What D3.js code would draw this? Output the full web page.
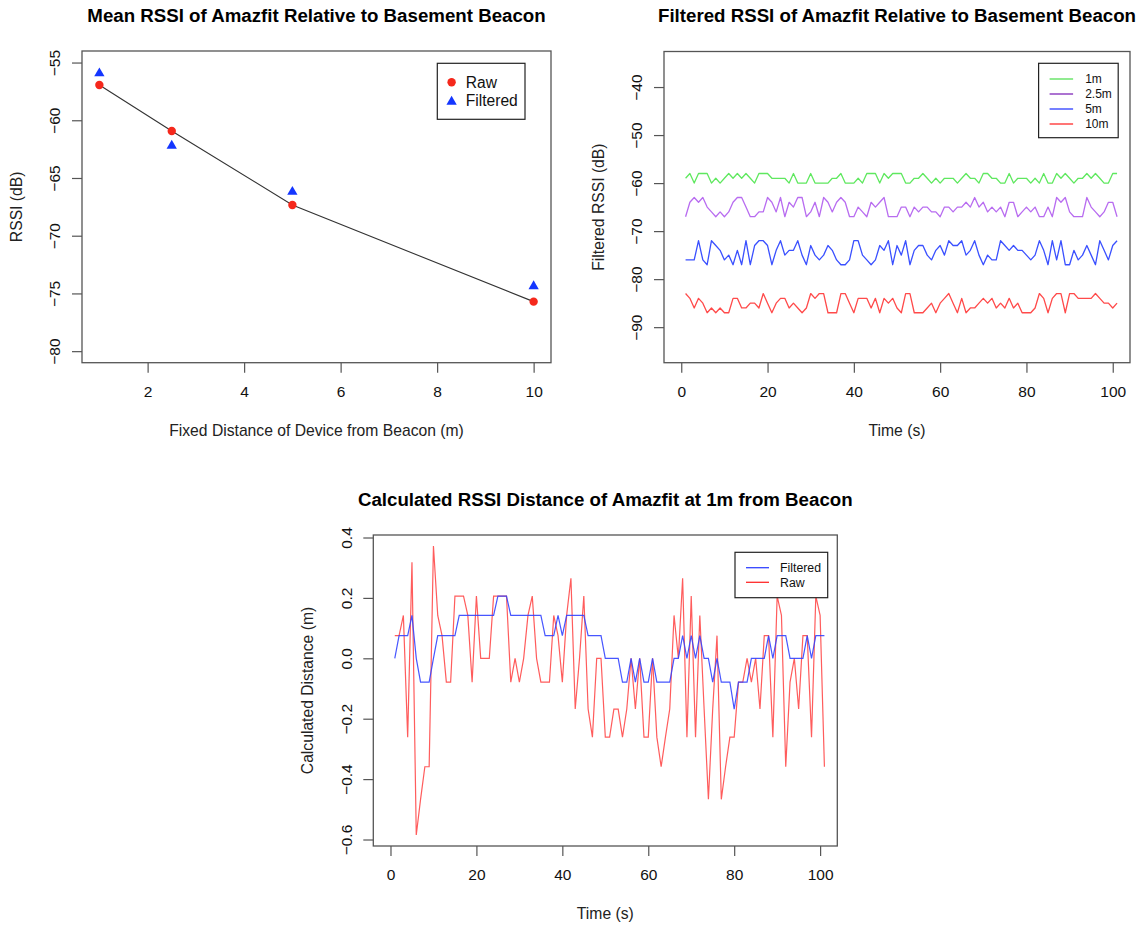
<!DOCTYPE html>
<html><head><meta charset="utf-8">
<script src="https://cdn.jsdelivr.net/npm/d3@7"></script>
<style>
body{margin:0;background:#fff;}
svg{display:block;font-family:"Liberation Sans",Arial,Helvetica,sans-serif;}
</style></head><body>
<svg id="chart" width="1142" height="926"></svg>
<script>
// ---------- Panel A: mean RSSI vs distance ----------
const distances = [1, 2.5, 5, 10];
const meanRaw = [-56.94, -60.93, -67.34, -75.71];
const meanFiltered = [-55.87, -62.14, -66.13, -74.3];
const aXTicks = [2, 4, 6, 8, 10];
const aYTicks = [-80, -75, -70, -65, -60, -55];
const aLegend = ["Raw", "Filtered"];

// ---------- Panel B: filtered RSSI over time ----------
const bSeriesNames = ["1m", "2.5m", "5m", "10m"];
const rssi1m = [-59,-58,-60,-58,-58,-58,-60,-59,-60,-59,-58,-59,-58,-59,-58,-59,-60,-58,-58,-58,-59,-59,-59,-59,-60,-58,-60,-60,
  -60,-58,-60,-60,-60,-60,-59,-59,-58,-60,-60,-60,-59,-60,-58,-58,-58,-60,-58,-59,-58,-58,-58,-60,-60,-59,-59,-58,-59,-60,-59,
  -60,-59,-59,-59,-60,-59,-58,-59,-59,-60,-58,-58,-59,-59,-60,-60,-58,-60,-59,-59,-59,-60,-59,-60,-58,-60,-60,-58,-59,-58,-59,-60,
  -59,-59,-58,-59,-58,-59,-60,-60,-58,-58];
const rssi2_5m = [-67,-64,-63,-64,-63,-65,-66,-67,-66,-67,-66,-64,-63,-63,-65,-67,-67,-66,-66,-63,-64,-66,-63,-67,-64,-65,-63,-63,
  -67,-66,-64,-67,-63,-64,-66,-64,-63,-64,-67,-67,-65,-66,-67,-64,-65,-64,-63,-67,-67,-67,-65,-65,-67,-65,-66,-65,-65,-66,-66,
  -67,-65,-65,-66,-65,-65,-64,-65,-63,-65,-64,-66,-65,-66,-65,-67,-64,-64,-67,-66,-65,-66,-65,-67,-67,-65,-67,-63,-64,-63,-66,-67,
  -67,-67,-63,-65,-66,-67,-66,-64,-64,-67];
const rssi5m = [-76,-76,-76,-72,-76,-77,-72,-73,-74,-76,-75,-77,-74,-77,-72,-77,-73,-72,-72,-73,-77,-74,-72,-75,-74,-74,-72,-75,
  -77,-73,-75,-76,-75,-73,-74,-76,-77,-77,-76,-72,-72,-75,-76,-77,-76,-73,-74,-72,-77,-73,-75,-72,-77,-74,-73,-73,-75,-76,-74,
  -73,-75,-72,-73,-73,-72,-75,-74,-72,-75,-77,-75,-76,-76,-72,-73,-74,-73,-74,-74,-75,-76,-75,-72,-74,-77,-72,-76,-72,-77,-77,-74,
  -76,-75,-73,-75,-77,-72,-74,-76,-73,-72];
const rssi10m = [-83,-84,-86,-84,-85,-87,-86,-87,-86,-87,-87,-84,-84,-86,-86,-85,-85,-86,-83,-85,-87,-85,-84,-84,-86,-85,-86,-87,
  -86,-83,-84,-83,-83,-87,-87,-87,-83,-83,-85,-87,-84,-84,-84,-86,-84,-87,-84,-85,-84,-86,-87,-83,-83,-87,-87,-87,-86,-85,-87,
  -85,-84,-83,-85,-87,-84,-87,-86,-86,-85,-84,-85,-84,-86,-85,-86,-84,-86,-85,-87,-87,-87,-86,-83,-84,-87,-84,-83,-83,-87,-83,-83,
  -84,-84,-84,-84,-83,-84,-85,-85,-86,-85];
const bXTicks = [0, 20, 40, 60, 80, 100];
const bYTicks = [-90, -80, -70, -60, -50, -40];

// ---------- Panel C: calculated distance ----------
const distFiltered = [0,0.075,0.075,0.075,0.142,0,-0.079,-0.079,-0.079,0,
  0.075,0.075,0.075,0.075,0.075,0.142,0.142,0.142,0.142,0.142,
  0.142,0.142,0.142,0.142,0.206,0.206,0.206,0.142,0.142,0.142,
  0.142,0.142,0.142,0.142,0.142,0.075,0.075,0.075,0.142,0.075,
  0.142,0.142,0.142,0.142,0.142,0.075,0.075,0.075,0.075,0,
  0,0,0,-0.079,-0.079,0,-0.079,0,-0.079,-0.079,
  0,-0.079,-0.079,-0.079,-0.079,0,0,0.075,0,0.075,
  0,0.075,0,0,-0.079,0,-0.079,-0.079,-0.079,-0.168,
  -0.079,-0.079,-0.079,0,0,0,0,0.075,0,0.075,
  0.075,0.075,0,0,0,0,0.075,0,0.075,0.075,
  0.075];
const distRaw = [0.075,0.075,0.142,-0.261,0.318,-0.585,-0.467,-0.359,-0.359,0.372,
  0.142,0.075,-0.079,-0.079,0.206,0.206,0.206,0.142,-0.079,0.206,
  0,0,0,0.206,0.206,0.206,0.206,-0.079,0,-0.079,
  0,0.142,0.206,0,-0.079,-0.079,-0.079,0.142,0.075,-0.079,
  0.142,0.265,-0.168,0,0.206,-0.168,-0.261,0,0,-0.261,
  -0.261,-0.168,-0.168,-0.261,-0.168,0,-0.168,0,-0.261,-0.261,
  0,-0.261,-0.359,-0.261,-0.168,0.142,0,0.265,-0.261,0.206,
  -0.261,0.142,-0.168,-0.467,-0.168,0.075,-0.467,-0.359,-0.261,-0.261,
  -0.079,-0.079,0,-0.079,0,-0.168,0.075,0.075,-0.261,0.206,
  0.142,-0.359,-0.079,0,-0.168,0.075,0.075,-0.261,0.206,0.142,
  -0.359];
const cXTicks = [0, 20, 40, 60, 80, 100];
const cYTicks = [-0.6, -0.4, -0.2, 0, 0.2, 0.4];
const cLegend = ["Filtered", "Raw"];

// ---------- drawing ----------
const svg = d3.select("#chart");
const TICK_FS = "15.5px", LAB_FS = "15.7px", TITLE_FS = "18.7px";

function panel(cfg) {
  const x = d3.scaleLinear().domain(cfg.xDomain).range([cfg.left, cfg.right]);
  const y = d3.scaleLinear().domain(cfg.yDomain).range([cfg.bottom, cfg.top]);
  const g = svg.append("g");
  // x axis
  const xa = g.append("g").attr("transform", `translate(0,${cfg.bottom})`)
    .call(d3.axisBottom(x).tickValues(cfg.xTicks).tickSize(10).tickFormat(cfg.xFmt || d3.format("d")));
  xa.select(".domain").remove();
  xa.selectAll("line").attr("stroke", "#555").attr("stroke-width", 1.2);
  xa.selectAll("text").attr("y", 29).attr("dy", "0.35em").attr("fill", "#111")
    .style("font-size", TICK_FS).style("font-family", "Liberation Sans, Arial, sans-serif");
  // y axis
  const ya = g.append("g").attr("transform", `translate(${cfg.left},0)`)
    .call(d3.axisLeft(y).tickValues(cfg.yTicks).tickSize(10).tickFormat(cfg.yFmt || d3.format("d")));
  ya.select(".domain").remove();
  ya.selectAll("line").attr("stroke", "#555").attr("stroke-width", 1.2);
  ya.selectAll("text").attr("transform", "rotate(-90)").attr("x", 0).attr("y", -27)
    .attr("dy", "0.35em").attr("text-anchor", "middle").attr("fill", "#111")
    .style("font-size", TICK_FS).style("font-family", "Liberation Sans, Arial, sans-serif");
  // box
  g.append("rect").attr("x", cfg.left).attr("y", cfg.top)
    .attr("width", cfg.right - cfg.left).attr("height", cfg.bottom - cfg.top)
    .attr("fill", "none").attr("stroke", "#555").attr("stroke-width", 1.3);
  // title
  const cx = (cfg.left + cfg.right) / 2;
  g.append("text").attr("x", cx).attr("y", cfg.top - 36).attr("dy", "0.35em")
    .attr("text-anchor", "middle").style("font-size", TITLE_FS).style("font-weight", "bold")
    .attr("fill", "#000").text(cfg.title);
  g.append("text").attr("x", cx).attr("y", cfg.bottom + 67.5).attr("dy", "0.35em")
    .attr("text-anchor", "middle").style("font-size", LAB_FS).attr("fill", "#222").text(cfg.xLabel);
  const cy = (cfg.top + cfg.bottom) / 2;
  g.append("text").attr("transform", `translate(${cfg.left - 65.5},${cy}) rotate(-90)`)
    .attr("dy", "0.35em").attr("text-anchor", "middle").style("font-size", LAB_FS)
    .attr("fill", "#222").text(cfg.yLabel);
  return {g, x, y};
}

// Panel A
{
  const p = panel({left: 82, right: 551, top: 51, bottom: 362.7,
    xDomain: [0.64, 10.36], yDomain: [-81, -54], xTicks: aXTicks, yTicks: aYTicks,
    title: "Mean RSSI of Amazfit Relative to Basement Beacon",
    xLabel: "Fixed Distance of Device from Beacon (m)", yLabel: "RSSI (dB)"});
  const line = d3.line().x((d, i) => p.x(distances[i])).y(d => p.y(d));
  p.g.append("path").attr("d", line(meanRaw)).attr("fill", "none").attr("stroke", "#333").attr("stroke-width", 1.1);
  p.g.selectAll(".raw").data(meanRaw).join("circle")
    .attr("cx", (d, i) => p.x(distances[i])).attr("cy", d => p.y(d)).attr("r", 4.2).attr("fill", "#f5281c");
  const tri = d3.symbol().type(d3.symbolTriangle).size(46);
  p.g.selectAll(".fil").data(meanFiltered).join("path").attr("d", tri)
    .attr("transform", (d, i) => `translate(${p.x(distances[i])},${p.y(d) + 0.8})`).attr("fill", "#1436ff");
  // legend
  const lg = p.g.append("g");
  lg.append("rect").attr("x", 437.3).attr("y", 63.3).attr("width", 87.7).attr("height", 56)
    .attr("fill", "#fff").attr("stroke", "#222").attr("stroke-width", 1.2);
  const ly = [82.3, 101];
  lg.append("circle").attr("cx", 451.6).attr("cy", ly[0]).attr("r", 4.2).attr("fill", "#f5281c");
  lg.append("path").attr("d", tri).attr("transform", `translate(451.6,${ly[1] + 0.8})`).attr("fill", "#1436ff");
  aLegend.forEach((t, i) => lg.append("text").attr("x", 465.8).attr("y", ly[i]).attr("dy", "0.35em")
    .style("font-size", "15.6px").attr("fill", "#111").text(t));
}

// Panel B
{
  const p = panel({left: 664, right: 1130, top: 51.5, bottom: 362.7,
    xDomain: [-4, 104], yDomain: [-97.4, -32.6], xTicks: bXTicks, yTicks: bYTicks,
    title: "Filtered RSSI of Amazfit Relative to Basement Beacon",
    xLabel: "Time (s)", yLabel: "Filtered RSSI (dB)"});
  const series = [rssi1m, rssi2_5m, rssi5m, rssi10m];
  const lineColors = ["#5fe85f", "#b86cf0", "#3a50ff", "#ff4a4a"];
  const legendColors = ["#55e055", "#7f28b8", "#2a3cff", "#ff2a2a"];
  const line = d3.line().x((d, i) => p.x(i + 1)).y(d => p.y(d));
  series.forEach((s, k) => p.g.append("path").attr("d", line(s)).attr("fill", "none")
    .attr("stroke", lineColors[k]).attr("stroke-width", 1.3).attr("stroke-linejoin", "round"));
  const lg = p.g.append("g");
  lg.append("rect").attr("x", 1038.6).attr("y", 63.3).attr("width", 79.6).attr("height", 74.4)
    .attr("fill", "#fff").attr("stroke", "#222").attr("stroke-width", 1.2);
  bSeriesNames.forEach((n, i) => {
    const yy = 79 + i * 15;
    lg.append("line").attr("x1", 1049.6).attr("x2", 1073.1).attr("y1", yy).attr("y2", yy)
      .attr("stroke", legendColors[i]).attr("stroke-width", 1.3);
    lg.append("text").attr("x", 1085.2).attr("y", yy).attr("dy", "0.35em")
      .style("font-size", "12px").attr("fill", "#111").text(n);
  });
}

// Panel C
{
  const p = panel({left: 373.3, right: 837.3, top: 535, bottom: 846,
    xDomain: [-4, 104], yDomain: [-0.6215, 0.4083], xTicks: cXTicks, yTicks: cYTicks,
    yFmt: d3.format(".1f"),
    title: "Calculated RSSI Distance of Amazfit at 1m from Beacon",
    xLabel: "Time (s)", yLabel: "Calculated Distance (m)"});
  const line = d3.line().x((d, i) => p.x(i + 1)).y(d => p.y(d));
  p.g.append("path").attr("d", line(distRaw)).attr("fill", "none")
    .attr("stroke", "#ff4040").attr("stroke-opacity", 0.85).attr("stroke-width", 1.2);
  p.g.append("path").attr("d", line(distFiltered)).attr("fill", "none")
    .attr("stroke", "#3344ff").attr("stroke-opacity", 0.9).attr("stroke-width", 1.2);
  const lg = p.g.append("g");
  lg.append("rect").attr("x", 735).attr("y", 552.3).attr("width", 92.7).attr("height", 45.4)
    .attr("fill", "#fff").attr("stroke", "#222").attr("stroke-width", 1.2);
  const cols = ["#3344ff", "#ff2a2a"];
  cLegend.forEach((n, i) => {
    const yy = 567.7 + i * 14.6;
    lg.append("line").attr("x1", 746).attr("x2", 769).attr("y1", yy).attr("y2", yy)
      .attr("stroke", cols[i]).attr("stroke-width", 1.3);
    lg.append("text").attr("x", 780).attr("y", yy).attr("dy", "0.35em")
      .style("font-size", "12.3px").attr("fill", "#111").text(n);
  });
}
</script>
</body></html>
